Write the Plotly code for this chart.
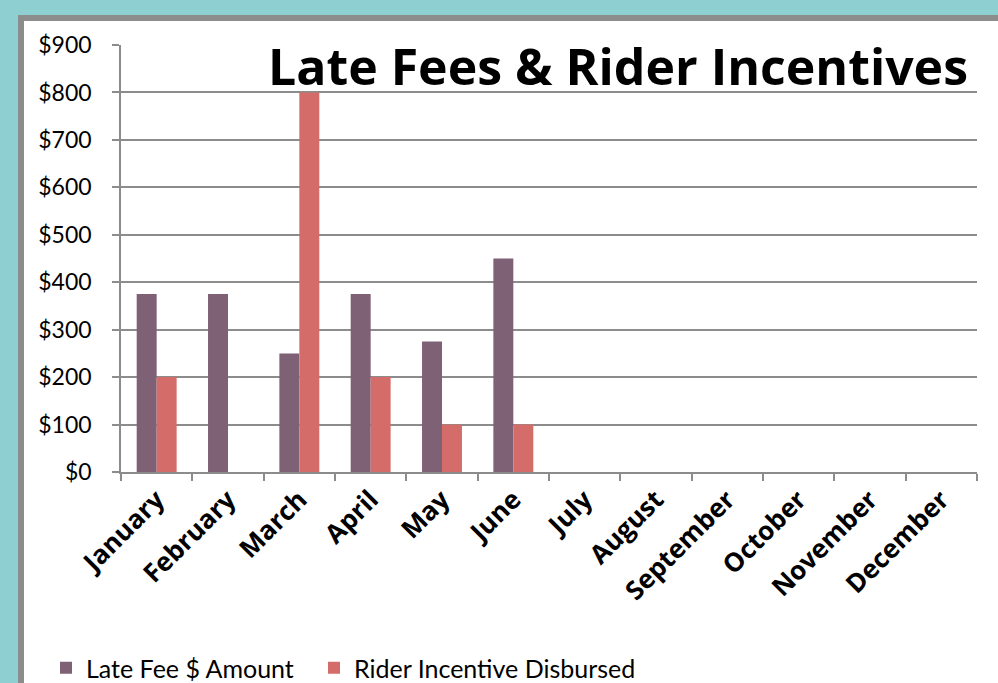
import plotly.graph_objects as go

months = ["January", "February", "March", "April", "May", "June", "July",
          "August", "September", "October", "November", "December"]
late_fee = [375, 375, 250, 375, 275, 450, None, None, None, None, None, None]
rider_incentive = [200, 0, 800, 200, 100, 100, None, None, None, None, None, None]
y_ticks = [0, 100, 200, 300, 400, 500, 600, 700, 800, 900]
y_labels = ["$" + str(v) for v in y_ticks]

W, H = 998, 683
L, R, T, B = 121, 21, 45, 211
pw, ph = W - L - R, H - T - B

def px(x):
    return (x - L) / pw

def py(y):
    return (H - B - y) / ph

FONT = "Lato"

fig = go.Figure()
fig.add_trace(go.Bar(x=months, y=late_fee, name="Late Fee $ Amount", legend="legend",
                     marker=dict(color="#7F6175", line=dict(width=0))))
fig.add_trace(go.Bar(x=months, y=rider_incentive, name="Rider Incentive Disbursed",
                     legend="legend2",
                     marker=dict(color="#D46D6A", line=dict(width=0))))

leg_common = dict(orientation="h", xanchor="left", yanchor="middle",
                  font=dict(size=25, family=FONT, color="black"),
                  bgcolor="rgba(0,0,0,0)", itemwidth=30)

fig.update_layout(
    width=W, height=H,
    margin=dict(l=L, r=R, t=T, b=B, pad=0, autoexpand=False),
    paper_bgcolor="#8ECFD2",
    plot_bgcolor="white",
    barmode="group",
    bargap=0.44,
    bargroupgap=0,
    font=dict(family=FONT, color="black"),
    showlegend=True,
    legend=dict(x=px(46), y=py(668), **leg_common),
    legend2=dict(x=px(314), y=py(668), **leg_common),
    shapes=[
        dict(type="rect", xref="paper", yref="paper", layer="below",
             x0=px(18), x1=px(1010), y0=py(15), y1=py(700),
             fillcolor="#8C8C8C", line=dict(width=0)),
        dict(type="rect", xref="paper", yref="paper", layer="below",
             x0=px(24), x1=px(1010), y0=py(21), y1=py(700),
             fillcolor="white", line=dict(width=0)),
    ],
    annotations=[
        dict(text="<b>Late Fees & Rider Incentives</b>", xref="paper", yref="paper",
             x=px(970), y=py(66), xanchor="right", yanchor="middle", showarrow=False,
             font=dict(size=50, family="Open Sans", color="black")),
    ],
)

fig.update_xaxes(
    type="category", tickson="boundaries", ticks="outside", ticklen=7,
    tickcolor="#8C8C8C", tickwidth=1.5,
    showline=True, linecolor="#8C8C8C", linewidth=2,
    tickangle=-45, tickfont=dict(size=26, family="Open Sans", color="black", weight="bold"),
    showgrid=False,
)
fig.update_yaxes(
    range=[0, 900], tickvals=y_ticks, ticktext=y_labels,
    ticks="outside", ticklen=7, tickcolor="#8C8C8C", tickwidth=1.5,
    showline=True, linecolor="#8C8C8C", linewidth=1.5,
    showgrid=True, gridcolor="#8C8C8C", gridwidth=1.5,
    tickfont=dict(size=23, family=FONT, color="black"),
    ticklabelstandoff=16, zeroline=False,
)

fig.write_html("out.html", config={"displayModeBar": False},
               post_script="document.body.style.margin='0px';document.body.style.overflow='hidden';")
